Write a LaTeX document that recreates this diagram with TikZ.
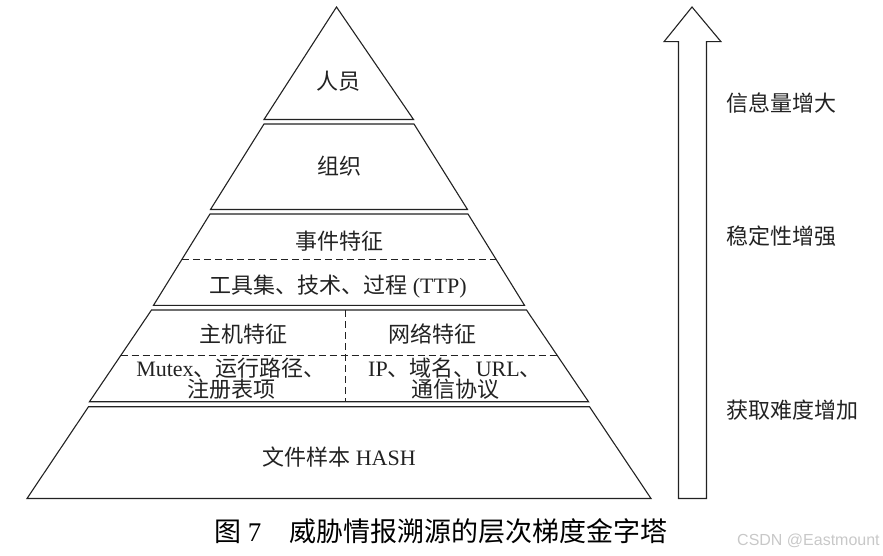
\documentclass[tikz,border=0pt]{standalone}
\usepackage{fontspec}
\setmainfont{Liberation Serif}
\newfontfamily\cjk{Noto Sans CJK SC}
\newfontfamily\wmfont{Liberation Sans}
\usetikzlibrary{calc}
\definecolor{ink}{HTML}{222222}
\definecolor{wm}{HTML}{C8C8C8}
\begin{document}
\begin{tikzpicture}[x=1pt,y=-1pt,
  layer/.style={draw=ink, line width=1.1pt, line join=miter},
  sep/.style={draw=ink, line width=1.1pt, dash pattern=on 7pt off 4pt},
  lbl/.style={font=\fontsize{22}{21}\selectfont, text=ink, inner sep=0pt, align=center},
  side/.style={lbl, anchor=west},
  captext/.style={font=\fontsize{27}{29}\selectfont, text=black, inner sep=0pt, anchor=west},
  wmark/.style={font=\wmfont\fontsize{16}{18}\selectfont, text=wm, inner sep=0pt, anchor=west}]
\useasboundingbox (0,0) rectangle (883,556);
% layer 1
\coordinate (apex) at (336.5,7);
\coordinate (a1) at (264,119.5);
\coordinate (b1) at (413.5,119.5);
% layer 2
\coordinate (t2l) at (264,124);   \coordinate (t2r) at (414,124);
\coordinate (b2l) at (210.5,209.5); \coordinate (b2r) at (467.5,209.5);
% layer 3
\coordinate (t3l) at (210,214);   \coordinate (t3r) at (468,214);
\coordinate (b3l) at (153.5,305.3); \coordinate (b3r) at (524.5,305.3);
% layer 4
\coordinate (t4l) at (151.5,310); \coordinate (t4r) at (526.5,310);
\coordinate (b4l) at (89.5,401.7); \coordinate (b4r) at (588.5,401.7);
% layer 5
\coordinate (t5l) at (88.5,406.7); \coordinate (t5r) at (589.5,406.7);
\coordinate (b5l) at (27,498.5);   \coordinate (b5r) at (651,498.5);

\draw[layer] (apex) -- (b1) -- (a1) -- cycle;
\draw[layer] (t2l) -- (t2r) -- (b2r) -- (b2l) -- cycle;
\draw[layer] (t3l) -- (t3r) -- (b3r) -- (b3l) -- cycle;
\draw[layer] (t4l) -- (t4r) -- (b4r) -- (b4l) -- cycle;
\draw[layer] (t5l) -- (t5r) -- (b5r) -- (b5l) -- cycle;

% dashed separators
\coordinate (m3l) at ($(t3l)!0.5!(b3l)$); \coordinate (m3r) at ($(t3r)!0.5!(b3r)$);
\coordinate (m4l) at ($(t4l)!0.5!(b4l)$); \coordinate (m4r) at ($(t4r)!0.5!(b4r)$);
\coordinate (v4t) at (345.5,310); \coordinate (v4b) at (345.5,401.7);
\draw[sep] (m3l) -- (m3r);
\draw[sep] (m4l) -- (m4r);
\draw[sep] (v4t) -- (v4b);

% arrow
\coordinate (tip) at (692,7);
\coordinate (hr) at (721,41.7); \coordinate (hl) at (664,41.7);
\coordinate (sr) at (706.5,41.7); \coordinate (sl) at (678.5,41.7);
\coordinate (sbr) at (706.5,498.5); \coordinate (sbl) at (678.5,498.5);
\draw[layer] (tip) -- (hr) -- (sr) -- (sbr) -- (sbl) -- (sl) -- (hl) -- cycle;

% labels
\node[lbl] (n1) at (338,81) {\cjk 人员};
\node[lbl] (n2) at (339,166) {\cjk 组织};
\node[lbl] (n3) at (339,241) {\cjk 事件特征};
\node[lbl] (n4) at (338,287) {{\cjk 工具集、技术、过程} (TTP)};
\node[lbl] (n5) at (243,334) {\cjk 主机特征};
\node[lbl] (n6) at (432,334) {\cjk 网络特征};
\node[lbl] (n7) at (231,379) {Mutex{\cjk 、运行路径、}\\{\cjk 注册表项}};
\node[lbl] (n8) at (455,379) {IP{\cjk 、域名、}URL{\cjk 、}\\{\cjk 通信协议}};
\node[lbl] (n9) at (339,457) {{\cjk 文件样本} HASH};

\node[side] (r1) at (726,103) {\cjk 信息量增大};
\node[side] (r2) at (726,236) {\cjk 稳定性增强};
\node[side] (r3) at (726,410) {\cjk 获取难度增加};

\node[captext] (caption) at (214,531) {{\cjk 图} 7\hspace{1.05em}{\cjk 威胁情报溯源的层次梯度金字塔}};
\node[wmark] (wmk) at (737,541) {CSDN @Eastmount};
\end{tikzpicture}
\end{document}
